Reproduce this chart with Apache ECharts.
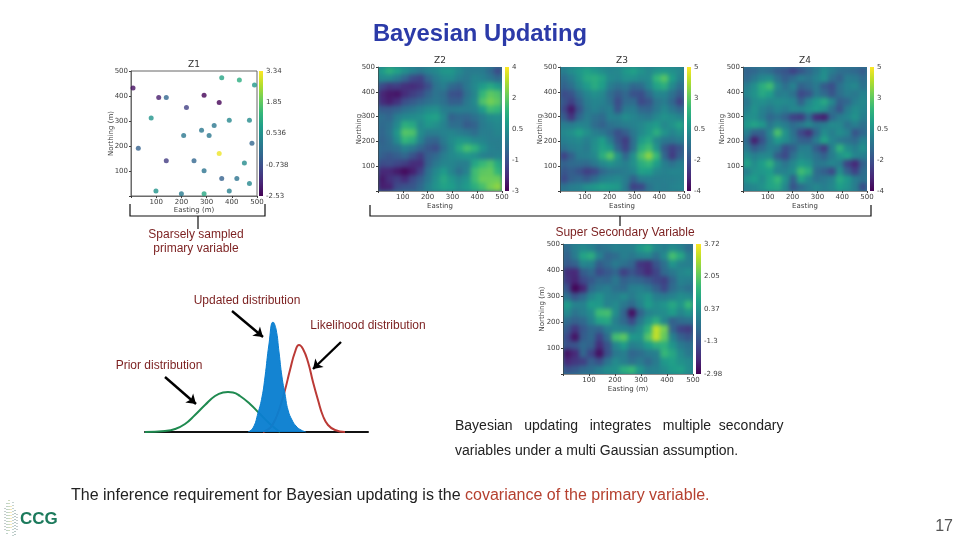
<!DOCTYPE html>
<html>
<head>
<meta charset="UTF-8">
<title>Bayesian Updating</title>
<script src="https://cdn.jsdelivr.net/npm/echarts@6/dist/echarts.min.js"></script>
<style>
html,body{margin:0;padding:0;background:#fff;}
.layer{position:absolute;left:0;top:0;width:960px;height:540px;}
#heatClip{background:#2a7b8e;}
#heat{filter:blur(2px);}
#panel{filter:blur(0.45px);}
</style>
</head>
<body>
<div id="heatClip" class="layer"><div id="heat" class="layer"></div></div>
<div id="panel" class="layer"></div>
<div id="slide" class="layer"></div>
<script type="text/javascript">
// cell centres of the coarse maps (easting / northing)
var cellCenters = ['16','47','78','109','141','172','203','234','266','297','328','359','391','422','453','484'];

// values, rows go north to south
var z2Rows = [
[1.0,1.6,1.2,0.7,0.3,0.0,0.3,0.5,0.9,0.9,0.5,0.1,0.1,0.1,-0.4,-1.2],
[0.5,0.5,0.1,-0.5,-1.2,-1.4,-0.5,0.1,0.5,0.6,0.2,0.0,0.4,0.3,0.0,-0.4],
[-1.2,-1.6,-1.5,-1.8,-1.9,-1.7,-1.1,-0.1,0.2,-0.4,-0.6,0.0,0.5,1.0,1.4,1.0],
[-2.0,-2.3,-2.4,-1.9,-1.5,-1.2,-0.6,-0.1,-0.3,-1.0,-1.1,-0.2,0.4,1.8,2.4,2.2],
[-1.9,-2.2,-1.8,-1.1,-0.8,-0.5,-0.2,0.0,-0.2,-0.7,-0.7,0.0,0.5,2.2,2.7,2.4],
[-0.8,-0.8,-0.6,-0.2,0.0,0.3,0.6,0.7,0.2,0.1,0.2,0.2,0.3,1.0,2.0,1.8],
[-0.3,-0.5,0.2,0.5,0.6,0.7,1.1,1.2,0.5,-0.6,-0.4,-0.5,-0.2,0.2,0.6,0.7],
[-0.4,-0.2,0.5,1.6,1.4,0.5,0.9,0.7,0.3,-0.3,-0.3,-0.8,-0.6,0.1,0.3,0.5],
[-0.5,-0.1,0.9,2.3,2.2,0.6,0.2,0.2,0.3,0.4,0.2,0.0,-0.3,0.2,0.2,0.4],
[-0.6,-0.3,0.6,1.8,1.5,0.3,-0.5,-0.6,0.1,0.6,0.9,0.8,0.5,0.4,0.2,0.2],
[-0.5,-0.4,-0.2,0.3,0.0,-0.5,-0.9,-1.1,-0.2,0.5,1.4,2.1,1.7,0.8,0.3,0.2],
[-0.7,-0.9,-0.7,-0.5,-1.0,-1.5,-0.7,-0.4,0.2,0.5,0.7,0.9,0.7,0.3,0.2,0.3],
[-1.2,-1.1,-1.3,-1.5,-1.9,-1.9,-0.6,0.0,0.4,0.4,0.2,0.2,1.3,1.9,2.2,1.4],
[-2.0,-2.0,-2.3,-2.6,-2.2,-1.4,-0.2,0.5,1.0,0.4,-0.2,0.3,2.0,2.4,2.5,1.8],
[-2.3,-1.8,-1.5,-1.9,-1.2,-0.7,0.0,0.7,1.4,0.9,0.5,0.8,2.0,2.6,2.6,2.6],
[-2.2,-2.1,-1.2,-1.0,-0.9,-0.4,0.3,0.8,1.2,1.1,0.7,1.0,1.6,2.1,2.7,3.0]
];
var z3Rows = [
[0.3,0.8,1.2,1.5,1.2,0.8,0.5,0.6,1.2,1.5,1.0,0.6,1.0,1.2,0.9,0.6],
[-0.4,0.2,1.0,1.8,2.0,1.6,0.7,0.5,0.9,0.9,0.6,0.7,2.3,3.0,1.4,0.4],
[-0.8,-0.3,0.6,1.3,1.9,1.4,0.2,-0.2,0.0,-0.6,-0.4,0.5,1.6,2.0,0.7,-0.3],
[-1.5,-1.2,-0.2,0.5,0.9,0.6,-0.4,-1.0,-0.6,-1.3,-1.4,-0.5,0.5,0.5,-0.2,-1.0],
[-1.2,-1.8,-0.8,0.2,0.5,0.4,-0.2,-1.5,-0.5,-0.4,-1.6,-1.2,-0.1,0.2,-0.6,-1.8],
[-1.6,-3.0,-1.2,0.0,0.4,0.1,0.3,-1.2,0.1,0.2,-0.6,-0.7,0.0,0.6,0.0,-0.6],
[-1.0,-2.2,-0.6,0.2,-0.2,-0.5,0.4,0.3,0.8,0.5,0.2,0.0,0.6,1.0,0.8,0.5],
[0.2,0.2,0.5,0.4,-0.4,-0.8,-0.2,0.0,0.2,0.4,0.6,1.0,1.3,0.6,1.0,1.6],
[0.6,0.9,1.5,0.9,0.3,0.0,-0.6,-1.4,-0.9,0.0,0.7,1.2,2.0,1.0,0.5,0.9],
[0.3,0.5,0.7,0.3,0.8,1.4,0.2,-1.2,-2.0,-0.3,1.3,1.8,0.6,0.0,-0.1,0.2],
[-0.3,0.2,0.4,0.1,0.9,1.6,1.2,-0.7,-1.8,-0.2,2.0,2.6,1.0,-1.0,-1.8,-1.2],
[-1.8,-0.8,0.2,0.3,0.6,2.0,3.0,1.0,-0.6,0.9,2.8,3.8,2.4,-0.6,-2.0,-0.9],
[-0.8,-0.5,-0.4,-0.5,0.0,0.6,1.0,0.6,0.3,0.9,2.0,2.4,1.4,0.3,-0.2,0.3],
[-1.2,-0.9,-1.3,-1.9,-1.6,-0.6,-0.1,0.0,0.2,0.5,1.5,1.4,0.6,0.4,0.5,0.5],
[-1.6,-0.8,-0.6,-1.0,-0.4,0.3,0.5,0.7,0.2,-0.8,0.2,0.3,0.2,0.3,0.3,0.4],
[-0.2,0.2,0.4,0.9,1.2,1.5,1.4,1.2,0.1,-1.8,-1.6,-0.2,0.3,0.2,0.4,0.5]
];
var z4Rows = [
[-0.8,-0.6,-0.2,-0.5,-1.0,-1.2,-1.8,-1.2,-0.6,0.0,0.8,0.2,-0.3,-0.4,-0.6,-1.0],
[-0.6,0.0,0.6,0.8,-0.2,-0.9,-0.4,0.2,-0.1,0.4,0.9,-0.3,-0.8,0.2,0.1,-0.5],
[0.2,0.9,2.0,2.6,0.6,-0.3,0.4,-0.8,-0.4,0.1,-1.0,-1.4,-0.2,0.4,0.6,-0.2],
[0.5,1.0,1.8,1.4,0.2,0.3,-0.2,-1.6,-1.2,0.0,-0.5,-1.2,-0.3,0.2,0.0,0.4],
[-0.1,0.8,0.9,0.6,0.8,0.7,0.5,-0.8,0.5,1.2,1.8,0.6,-0.9,-0.6,0.3,0.6],
[0.3,1.0,0.4,0.0,0.5,0.2,0.6,0.5,0.9,1.3,0.9,-0.2,-1.2,0.2,0.8,0.5],
[0.8,0.9,0.3,-0.6,-0.2,-0.8,-1.8,-2.0,-0.5,-2.5,-2.8,-0.6,0.2,0.5,1.0,0.3],
[1.2,1.6,1.2,0.0,0.6,0.2,-0.4,0.0,0.6,0.0,0.2,0.7,0.6,-0.2,0.3,-0.3],
[0.3,-0.8,-0.8,0.5,2.8,1.0,-0.2,-1.6,-2.4,-0.6,0.8,0.3,0.8,0.4,-1.2,-0.6],
[-0.6,-2.8,-1.3,0.2,1.3,0.8,0.0,-0.8,-0.9,0.2,1.6,0.5,0.0,-0.2,-0.5,0.4],
[0.0,-1.0,-0.5,0.3,0.0,-1.4,-0.9,0.2,0.3,-1.0,-2.0,0.3,2.2,0.8,0.3,0.9],
[0.8,0.3,0.6,0.6,-1.0,-1.6,-0.2,0.6,0.4,-0.2,-0.8,0.2,1.0,1.5,0.5,0.3],
[1.6,0.8,1.4,2.2,0.6,-0.1,0.6,1.3,1.0,0.0,0.1,0.5,0.2,-1.8,-2.6,-0.8],
[0.3,1.0,1.2,1.4,0.4,0.4,0.8,2.6,2.0,-0.4,-0.9,-1.6,0.8,-0.8,-1.8,-0.4],
[1.0,1.4,0.8,1.6,2.4,1.0,-0.8,1.6,0.6,-0.2,0.0,0.4,1.8,1.2,0.2,-0.2],
[0.4,0.6,1.0,1.6,1.8,0.6,-1.2,-0.4,0.2,0.6,0.3,0.6,1.4,1.0,0.2,-1.4]
];
var superRows = [
[-0.4,0.2,0.5,0.3,-0.2,0.0,0.3,0.2,0.3,0.9,1.3,0.5,0.2,0.6,0.3,-0.3],
[-0.6,0.1,1.2,1.5,0.3,-0.5,-0.3,0.2,0.0,0.3,0.4,-0.2,0.5,2.0,1.3,0.2],
[-0.8,-0.6,0.4,0.3,-0.7,-0.4,0.1,-0.2,-0.5,-1.6,-1.8,-0.9,-0.2,0.8,0.3,0.2],
[-1.8,-1.9,-0.7,-0.4,-1.2,-0.8,-0.5,-1.4,-0.9,-1.4,-1.9,-1.3,-0.4,0.0,0.4,0.6],
[-1.6,-2.0,-1.2,-0.8,-0.4,-0.5,0.0,-0.6,-0.4,-0.5,-0.8,-1.2,-1.4,-0.5,0.3,0.2],
[-1.0,-2.6,-2.0,-0.4,0.0,0.2,-0.2,-0.4,0.2,0.3,0.0,-0.6,-1.2,-0.3,0.1,-0.2],
[-0.2,-0.9,-0.4,0.4,0.8,0.3,0.2,0.5,0.1,0.5,0.8,0.2,0.1,0.3,0.6,0.5],
[1.0,0.3,0.3,1.0,0.9,0.3,0.5,0.0,-0.4,0.3,1.0,0.6,0.8,1.3,0.8,1.8],
[0.5,-0.1,0.2,0.6,1.9,2.0,0.6,-0.5,-2.4,-0.6,0.3,0.5,0.6,1.0,0.4,0.8],
[-0.3,-0.6,-0.4,0.3,1.2,1.3,0.2,-0.4,-1.2,0.0,0.8,1.5,0.4,-0.6,-0.3,-0.2],
[-0.8,-1.6,-0.8,-0.4,-0.5,0.2,0.4,0.3,0.1,0.6,1.6,3.4,2.6,-0.5,-1.3,-1.5],
[-1.2,-2.3,-0.7,-0.4,-1.3,-0.3,2.0,2.3,0.9,0.8,2.2,3.4,2.4,0.3,-0.6,-0.9],
[-1.0,-0.9,-0.4,-0.6,-1.8,-0.9,0.4,1.0,0.2,0.4,1.0,1.5,1.6,0.8,0.1,-0.2],
[-2.3,-1.9,-0.5,-1.3,-2.4,-1.0,0.0,0.2,-0.5,-0.3,0.1,0.2,1.8,1.3,0.5,0.0],
[-1.9,-1.6,-1.4,-0.6,-1.0,-0.1,0.5,0.2,-0.2,0.1,-0.4,0.1,0.9,1.1,0.7,0.5],
[-1.0,-0.8,-0.4,-0.2,0.2,0.6,0.7,1.5,1.8,0.8,0.2,0.3,0.6,1.0,1.1,0.6]
];

// Z1 samples
var z1East  = [360,430,490,8,110,140,290,350,220,80,390,470,330,280,209,310,480,29,350,140,250,450,290,360,420,470,99,390,200,290];
var z1North = [473,464,444,432,394,394,403,374,354,312,303,303,282,263,242,242,211,191,170,141,141,132,101,70,70,50,20,20,9,9];
var z1Value = [0.9,1.1,0.6,-2.3,-2.1,-0.6,-2.5,-2.5,-1.4,0.5,0.2,0.3,-0.2,-0.2,-0.2,-0.2,-0.6,-0.7,3.2,-1.5,-0.6,0.3,-0.3,-0.7,-0.3,0.2,0.5,0.0,-0.1,1.0];

// colourbar tick labels, top to bottom
var z1Ticks = ['3.34','1.85','0.536','-0.738','-2.53'];
var z2Ticks = ['4','2','0.5','-1','-3'];
var z3Ticks = ['5','3','0.5','-2','-4'];
var z4Ticks = ['5','3','0.5','-2','-4'];
var superTicks = ['3.72','2.05','0.37','-1.3','-2.98'];

// distribution curves, heights over the baseline
var priorX = [0,20,30,40,50,60,70,78,83,88,95,105,115,125,135];
var priorY = [0,1,3,8,17,27,36,39.5,40,39.5,36,28,18,8,0];
var likelihoodX = [118,125,130,135,140,145,150,154,158,163,168,173,178,183,190,200];
var likelihoodY = [0,4,12,25,42,62,80,87,83,70,50,32,16,7,2,0];
var updatedX = [103,108,113,117,120,124,128,131,134,137,140,143,147,151,156,161];
var updatedY = [0,4,19,35,55,88,110,103,80,55,38,22,12,6,2,0];

var viridis = ['#440154','#482878','#3e4989','#31688e','#26828e','#1f9e89','#35b779','#6ece58','#b5de2b','#fde725'];
var panelFont = 'DejaVu Sans';
var axisColor = '#3c3c3c';

// panel boxes on the slide; shift is the correction of my colour reading for that map
var boxes = [
  {name:'Z1', left:131, top:71, width:126, height:125, xName:'Easting (m)', xGap:11, yName:'Northing (m)', yGap:16, bar:259, barW:4, ticks:z1Ticks, min:-2.53, max:3.34},
  {name:'Z2', left:378, top:67, width:124, height:124, xName:'Easting', xGap:12, yName:'Northing', yGap:15, bar:505, barW:4, ticks:z2Ticks, min:-3, max:4, rows:z2Rows, shift:-0.2},
  {name:'Z3', left:560, top:67, width:124, height:124, xName:'Easting', xGap:12, yName:'Northing', yGap:16, bar:687, barW:4, ticks:z3Ticks, min:-4, max:5, rows:z3Rows, shift:-0.4},
  {name:'Z4', left:743, top:67, width:124, height:124, xName:'Easting', xGap:12, yName:'Northing', yGap:17, bar:870, barW:4, ticks:z4Ticks, min:-4, max:5, rows:z4Rows, shift:-0.4},
  {name:'', left:563, top:244, width:130, height:130, xName:'Easting (m)', xGap:12, yName:'Northing (m)', yGap:17, bar:696, barW:5, ticks:superTicks, min:-2.98, max:3.72, rows:superRows, shift:-0.3}
];

function cells(rows, shift) {
  var out = [];
  rows.forEach(function (row, r) {
    row.forEach(function (v, c) { out.push([c, rows.length - 1 - r, v + shift]); });
  });
  return out;
}

// heatmap layer: cartesian heatmaps want category axes, the numbered axes sit in the layer above
var mapBoxes = boxes.slice(1);
var clip = mapBoxes.map(function (b) {
  return 'M' + b.left + ' ' + b.top + 'h' + b.width + 'v' + b.height + 'h-' + b.width + 'Z';
}).join(' ');
document.getElementById('heatClip').style.clipPath = "path('" + clip + "')";

var heatChart = echarts.init(document.getElementById('heat'), null, {renderer:'canvas'});
heatChart.setOption({
  animation: false,
  grid: mapBoxes.map(function (b) { return {left:b.left, top:b.top, width:b.width, height:b.height}; }),
  xAxis: mapBoxes.map(function (b, i) { return {gridIndex:i, type:'category', data:cellCenters, show:false}; }),
  yAxis: mapBoxes.map(function (b, i) { return {gridIndex:i, type:'category', data:cellCenters, show:false}; }),
  visualMap: mapBoxes.map(function (b, i) {
    return {show:false, seriesIndex:i, min:b.min, max:b.max, inRange:{color:viridis}};
  }),
  series: mapBoxes.map(function (b, i) {
    return {type:'heatmap', xAxisIndex:i, yAxisIndex:i, data:cells(b.rows, b.shift), progressive:0};
  })
});

// axes, colourbars and the Z1 samples
var panelGrids = [], panelX = [], panelY = [], panelTitles = [];
boxes.forEach(function (b) {
  var g = panelGrids.length;
  panelGrids.push({left:b.left, top:b.top, width:b.width, height:b.height, show:b.name === 'Z1', borderColor:'#666', borderWidth:1});
  panelX.push({gridIndex:g, type:'value', min:0, max:500, interval:100, name:b.xName, nameLocation:'middle', nameGap:b.xGap, nameMoveOverlap:false,
    nameTextStyle:{fontSize:7, fontFamily:panelFont, color:axisColor},
    axisLine:{show:true, lineStyle:{color:axisColor, width:0.6}}, axisTick:{length:2, lineStyle:{color:axisColor}}, splitLine:{show:false},
    axisLabel:{fontSize:7, fontFamily:panelFont, color:axisColor, margin:3, formatter:function (v) { return v === 0 ? '' : v; }}});
  panelY.push({gridIndex:g, type:'value', min:0, max:500, interval:100, name:b.yName, nameLocation:'middle', nameGap:b.yGap, nameMoveOverlap:false,
    nameTextStyle:{fontSize:7, fontFamily:panelFont, color:axisColor},
    axisLine:{show:true, lineStyle:{color:axisColor, width:0.6}}, axisTick:{length:2, lineStyle:{color:axisColor}}, splitLine:{show:false},
    axisLabel:{fontSize:7, fontFamily:panelFont, color:axisColor, margin:3, formatter:function (v) { return v === 0 ? '' : v; }}});
  if (b.name) {
    panelTitles.push({text:b.name, left:b.left + b.width / 2, top:b.top - 11, padding:0, textAlign:'center', textStyle:{fontSize:9, fontWeight:'normal', fontFamily:panelFont, color:'#333'}});
  }
  // colourbar
  var c = panelGrids.length;
  panelGrids.push({left:b.bar, top:b.top, width:b.barW, height:b.height, show:true, borderWidth:0,
    backgroundColor:new echarts.graphic.LinearGradient(0, 1, 0, 0, viridis.map(function (col, i) {
      return {offset:i / (viridis.length - 1), color:col};
    }))});
  panelX.push({gridIndex:c, type:'category', data:[''], show:false});
  panelY.push({gridIndex:c, type:'category', position:'right', boundaryGap:false, data:b.ticks.slice().reverse(),
    axisLine:{show:false}, axisTick:{length:2, lineStyle:{color:axisColor}}, splitLine:{show:false},
    axisLabel:{fontSize:7, fontFamily:panelFont, color:axisColor, margin:3, showMinLabel:true, showMaxLabel:true, interval:0}});
});

var panelChart = echarts.init(document.getElementById('panel'));
panelChart.setOption({
  animation: false,
  title: panelTitles,
  grid: panelGrids,
  xAxis: panelX,
  yAxis: panelY,
  visualMap: {show:false, seriesIndex:0, dimension:2, min:-2.53, max:3.34, inRange:{color:viridis}},
  series: [{
    type:'scatter', xAxisIndex:0, yAxisIndex:0, symbolSize:5,
    data:z1East.map(function (x, i) { return [x, z1North[i], z1Value[i]]; })
  }]
});

// slide text, brackets, distributions
var labelRed = '#7b1f1f';
var bodyFont = '"Liberation Sans", Arial, sans-serif';

function label(text, x, y, size, color, align) {
  return {type:'text', x:x, y:y, style:{text:text, font:size + 'px ' + bodyFont, fill:color, textAlign:align || 'left', textVerticalAlign:'middle'}};
}
function bracket(points) {
  return {type:'polyline', shape:{points:points}, style:{stroke:'#111', lineWidth:1.2, fill:null}};
}
function logoColumn(x, y1, y2, color) {
  return {type:'line', shape:{x1:x, y1:y1, x2:x, y2:y2}, style:{stroke:color, lineWidth:1, lineDash:[1, 2]}};
}
function pairs(xs, ys) {
  return xs.map(function (x, i) { return [x, ys[i]]; });
}
function arrow(x1, y1, x2, y2) {
  return [{x:x1, y:y1}, {x:x2, y:y2}];
}

var slideChart = echarts.init(document.getElementById('slide'));
slideChart.setOption({
  animation: false,
  title: {text:'Bayesian Updating', left:475, top:17, textAlign:'center', textStyle:{fontSize:23.8, fontWeight:'bold', fontFamily:bodyFont, color:'#2b3aa8'}},
  grid: {left:145, top:322, width:223, height:110},
  xAxis: {type:'value', min:0, max:223, axisLine:{show:true, onZero:false, lineStyle:{color:'#111', width:2}}, axisTick:{show:false}, axisLabel:{show:false}, splitLine:{show:false}},
  yAxis: {type:'value', min:0, max:110, show:false},
  series: [
    {type:'line', name:'Prior distribution', z:1, data:pairs(priorX, priorY), smooth:true, showSymbol:false, lineStyle:{color:'#1f8a50', width:2}},
    {type:'line', name:'Likelihood distribution', z:2, data:pairs(likelihoodX, likelihoodY), smooth:true, showSymbol:false, lineStyle:{color:'#bb3a36', width:2}},
    {type:'line', name:'Updated distribution', z:3, data:pairs(updatedX, updatedY), smooth:true, showSymbol:false, lineStyle:{color:'#0a7fd0', width:1}, areaStyle:{color:'#0a7fd0', opacity:0.96},
      markLine:{silent:true, symbol:['none', 'arrow'], symbolSize:9, label:{show:false}, lineStyle:{color:'#000', width:2.4, type:'solid'},
        data:[arrow(232, 311, 263, 337), arrow(341, 342, 313, 369), arrow(165, 377, 196, 404)]}}
  ],
  graphic: [
    bracket([[130, 204], [130, 216], [265, 216], [265, 204]]),
    bracket([[198, 216], [198, 229]]),
    bracket([[370, 205], [370, 216], [871, 216], [871, 205]]),
    bracket([[620, 216], [620, 226]]),
    label('Sparsely sampled', 196, 235, 12, labelRed, 'center'),
    label('primary variable', 196, 249, 12, labelRed, 'center'),
    label('Super Secondary Variable', 625, 233, 12, labelRed, 'center'),
    label('Updated distribution', 247, 301, 12, labelRed, 'center'),
    label('Likelihood distribution', 368, 326, 12, labelRed, 'center'),
    label('Prior distribution', 159, 366, 12, labelRed, 'center'),
    label('Bayesian   updating   integrates   multiple  secondary', 455, 426, 14, '#222'),
    label('variables under a multi Gaussian assumption.', 455, 451, 14, '#222'),
    {type:'text', x:71, y:496, style:{
      text:'{a|The inference requirement for Bayesian updating is the }{b|covariance of the primary variable.}',
      textVerticalAlign:'middle',
      rich:{a:{fontSize:16, fontFamily:bodyFont, fill:'#222'}, b:{fontSize:16, fontFamily:bodyFont, fill:'#b5402f'}}
    }},
    label('17', 953, 527, 16, '#555', 'right'),
    {type:'text', x:20, y:519, style:{text:'CCG', font:'bold 17px ' + bodyFont, fill:'#1c7a5c', textVerticalAlign:'middle'}},
    logoColumn(5, 508, 530, '#8a9a9a'),
    logoColumn(7, 503, 534, '#7fa58f'),
    logoColumn(9, 500, 532, '#9ab37a'),
    logoColumn(11, 506, 528, '#e5cf7a'),
    logoColumn(13, 502, 537, '#8aa7a0'),
    logoColumn(15, 510, 535, '#6f8f8a'),
    logoColumn(17, 514, 530, '#8a9a9a')
  ]
});
</script>
</body>
</html>
